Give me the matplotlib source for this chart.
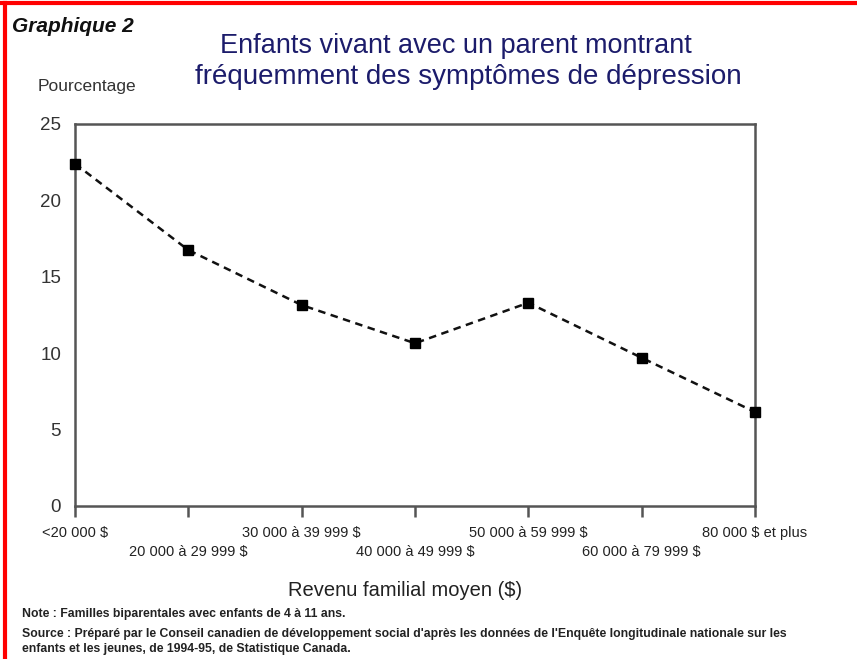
import matplotlib
matplotlib.use("Agg")
import matplotlib.pyplot as plt
from matplotlib.lines import Line2D

categories = ["<20 000 $", "20 000 à 29 999 $", "30 000 à 39 999 $",
              "40 000 à 49 999 $", "50 000 à 59 999 $", "60 000 à 79 999 $",
              "80 000 $ et plus"]
values = [22.4, 16.75, 13.15, 10.65, 13.3, 9.7, 6.15]
yticks = [0, 5, 10, 15, 20, 25]

FONT = ["Liberation Sans", "DejaVu Sans"]

fig = plt.figure(figsize=(8.57, 6.59), dpi=100)
fig.patch.set_facecolor("white")

ax = fig.add_axes([75/857, 1-506/659, (755-75)/857, (506-124)/659])
x = list(range(len(categories)))
ax.plot(x, values, linestyle=(0, (3, 2.2)), color="#111111", linewidth=1.8,
        marker="s", markersize=6.5, markerfacecolor="black",
        markeredgecolor="black", clip_on=False, zorder=3)

ax.set_xlim(0, len(categories)-1)
ax.set_ylim(0, 25)
for s in ax.spines.values():
    s.set_color("#555555")
    s.set_linewidth(1.8)

ax.set_yticks(yticks)
ax.set_yticklabels([str(t) for t in yticks], family=FONT, fontsize=13.5, color="#333333")
ax.tick_params(axis="y", length=0, pad=10)

ax.set_xticks(x)
ax.set_xticklabels([])
ax.tick_params(axis="x", length=8, width=1.8, color="#555555", direction="out")

for i, c in enumerate(categories):
    yoff = -0.07 if i % 2 == 0 else -0.12
    ax.text(i, yoff, c, transform=ax.get_xaxis_transform(), ha="center", va="center",
            fontsize=10.5, family=FONT, color="#222222")

fig.text(12/857, 1-27/659, "Graphique 2", family=FONT, fontsize=15,
         fontweight="bold", fontstyle="italic", ha="left", va="center", color="#111111")
fig.text(456/857, 1-46/659, "Enfants vivant avec un parent montrant",
         family=FONT, fontsize=19.5, ha="center", va="center", color="#1c1c6b")
fig.text(468/857, 1-77/659, "fréquemment des symptômes de dépression",
         family=FONT, fontsize=20, ha="center", va="center", color="#1c1c6b")
fig.text(38/857, 1-87/659, "Pourcentage", family=FONT, fontsize=12.5,
         ha="left", va="center", color="#333333")
fig.text(405/857, 1-590/659, "Revenu familial moyen ($)", family=FONT,
         fontsize=14.5, ha="center", va="center", color="#222222")
fig.text(22/857, 1-614/659, "Note : Familles biparentales avec enfants de 4 à 11 ans.",
         family=FONT, fontsize=8.8, fontweight="bold", ha="left", va="center", color="#222222")
fig.text(22/857, 1-634/659,
         "Source : Préparé par le Conseil canadien de développement social d'après les données de l'Enquête longitudinale nationale sur les",
         family=FONT, fontsize=8.8, fontweight="bold", ha="left", va="center", color="#222222")
fig.text(22/857, 1-649/659, "enfants et les jeunes, de 1994-95, de Statistique Canada.",
         family=FONT, fontsize=8.8, fontweight="bold", ha="left", va="center", color="#222222")

# red frame (top and left)
fig.add_artist(Line2D([0, 1], [1-3/659, 1-3/659], transform=fig.transFigure,
                      color="#ff0000", linewidth=3))
fig.add_artist(Line2D([5/857, 5/857], [0, 1-3/659], transform=fig.transFigure,
                      color="#ff0000", linewidth=3))

fig.savefig("out.png", dpi=100, facecolor="white")
